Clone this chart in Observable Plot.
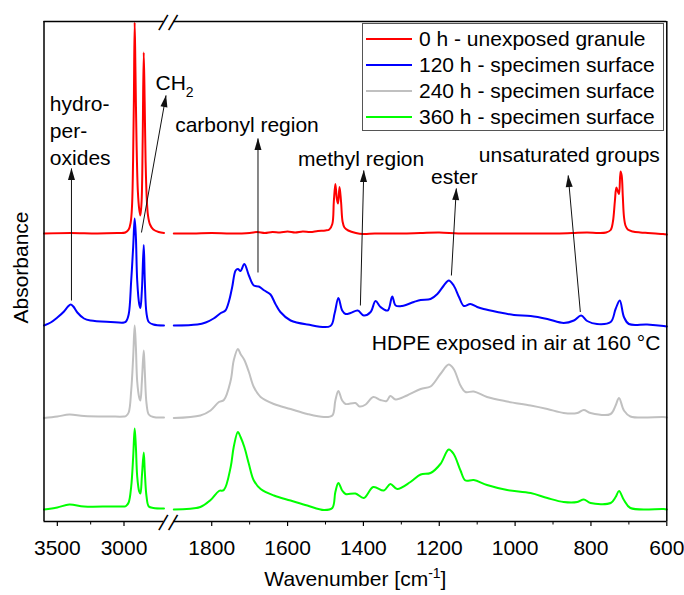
<!DOCTYPE html>
<html><head><meta charset="utf-8">
<script src="https://cdn.jsdelivr.net/npm/d3@7"></script>
<script src="https://cdn.jsdelivr.net/npm/@observablehq/plot@0.6"></script>
<style>
body{margin:0;background:#fff;}
#wrap{position:relative;width:684px;height:595px;font-family:"Liberation Sans",Arial,sans-serif;}
#legend{position:absolute;left:362px;top:23px;width:302px;height:108px;border:1px solid #555;background:#fff;box-sizing:border-box;}
.row{position:absolute;left:0;height:26px;line-height:26px;font-size:21px;color:#000;white-space:nowrap;}
.sw{position:absolute;left:3px;top:12px;width:46px;height:2px;}
.lab{position:absolute;left:56px;top:0;}
</style></head><body><div id="wrap"></div>
<script>
// ---- series ----
const names = ["0 h - unexposed granule","120 h - specimen surface","240 h - specimen surface","360 h - specimen surface"];
const colors = ["#ff0000","#0000ff","#c0c0c0","#00ff00"];

// [wavenumber, absorbance (offset as displayed)]
const red0h = [[3600,0.576],[3400,0.577],[3200,0.576],[3050,0.577],[2990,0.578],[2965,0.584],[2950,0.598],[2940,0.630],[2932,0.720],[2926,0.840],[2920,0.998],[2914,0.900],[2906,0.760],[2896,0.660],[2886,0.625],[2877,0.612],[2868,0.640],[2860,0.760],[2852,0.938],[2845,0.840],[2838,0.720],[2830,0.650],[2820,0.612],[2805,0.594],[2780,0.584],[2740,0.579],[2700,0.577],
 [1900,0.576],[1850,0.576],[1800,0.577],[1750,0.576],[1700,0.577],[1680,0.579],[1660,0.577],[1640,0.579],[1620,0.578],[1600,0.580],[1580,0.578],[1560,0.580],[1540,0.579],[1520,0.581],[1500,0.582],[1490,0.584],[1482,0.595],[1478,0.640],[1474,0.675],[1470,0.645],[1467,0.636],[1463,0.669],[1459,0.640],[1455,0.600],[1450,0.588],[1440,0.582],[1420,0.577],[1400,0.575],[1370,0.576],[1300,0.576],[1250,0.577],[1200,0.578],[1150,0.576],[1100,0.576],[1000,0.576],[900,0.576],[850,0.577],[810,0.578],[780,0.577],[760,0.578],[748,0.583],[742,0.600],[737,0.640],[733,0.668],[729,0.660],[726,0.655],[722,0.700],[719,0.692],[716,0.650],[713,0.610],[709,0.592],[703,0.584],[690,0.580],[670,0.578],[650,0.577],[630,0.576],[610,0.575],[600,0.574]];

const blue120h = [[3600,0.392],[3550,0.398],[3500,0.408],[3450,0.420],[3420,0.430],[3400,0.434],[3380,0.430],[3350,0.418],[3300,0.406],[3250,0.402],[3100,0.399],[3000,0.398],[2985,0.400],[2965,0.414],[2946,0.482],[2931,0.550],[2920,0.606],[2911,0.570],[2901,0.482],[2886,0.435],[2877,0.427],[2866,0.462],[2852,0.553],[2844,0.482],[2831,0.416],[2814,0.399],[2780,0.394],[2700,0.392],
 [1900,0.392],[1838,0.394],[1816,0.398],[1795,0.406],[1776,0.417],[1764,0.422],[1754,0.442],[1746,0.469],[1737,0.502],[1731,0.505],[1724,0.501],[1714,0.515],[1702,0.492],[1689,0.472],[1676,0.470],[1661,0.462],[1645,0.454],[1632,0.435],[1619,0.419],[1592,0.402],[1548,0.394],[1487,0.391],[1476,0.416],[1466,0.447],[1456,0.422],[1447,0.415],[1434,0.417],[1415,0.422],[1399,0.412],[1381,0.419],[1368,0.441],[1355,0.429],[1336,0.422],[1324,0.450],[1315,0.432],[1298,0.431],[1267,0.439],[1249,0.443],[1223,0.445],[1205,0.455],[1188,0.472],[1175,0.482],[1162,0.472],[1148,0.449],[1135,0.431],[1118,0.435],[1100,0.429],[1083,0.425],[1047,0.419],[1003,0.413],[959,0.411],[915,0.405],[872,0.397],[845,0.402],[826,0.412],[810,0.401],[784,0.395],[748,0.399],[735,0.425],[724,0.442],[713,0.409],[700,0.395],[652,0.394],[608,0.391],[600,0.390]];

const gray240h = [[3600,0.207],[3500,0.210],[3410,0.214],[3300,0.211],[3100,0.210],[3000,0.210],[2985,0.211],[2965,0.218],[2946,0.262],[2931,0.330],[2920,0.392],[2911,0.350],[2901,0.280],[2886,0.248],[2877,0.242],[2866,0.280],[2852,0.342],[2844,0.300],[2831,0.236],[2814,0.214],[2780,0.209],[2700,0.208],
 [1900,0.207],[1830,0.212],[1803,0.222],[1781,0.239],[1768,0.243],[1750,0.282],[1742,0.322],[1731,0.345],[1724,0.335],[1714,0.323],[1702,0.299],[1689,0.269],[1671,0.249],[1636,0.235],[1592,0.225],[1548,0.215],[1504,0.209],[1482,0.212],[1474,0.242],[1466,0.261],[1456,0.242],[1447,0.235],[1421,0.237],[1410,0.230],[1394,0.234],[1374,0.249],[1355,0.243],[1339,0.241],[1329,0.251],[1315,0.244],[1285,0.252],[1249,0.265],[1223,0.270],[1197,0.295],[1175,0.314],[1162,0.305],[1144,0.272],[1131,0.259],[1109,0.260],[1074,0.249],[1021,0.240],[959,0.232],[915,0.225],[872,0.217],[836,0.217],[819,0.223],[801,0.217],[748,0.215],[735,0.232],[726,0.247],[713,0.222],[696,0.210],[608,0.209],[600,0.208]];

const green360h = [[3600,0.024],[3500,0.028],[3410,0.034],[3300,0.030],[3100,0.030],[3000,0.030],[2985,0.031],[2965,0.038],[2946,0.070],[2931,0.130],[2920,0.186],[2911,0.150],[2901,0.090],[2886,0.060],[2877,0.056],[2866,0.090],[2852,0.138],[2844,0.100],[2831,0.050],[2814,0.030],[2780,0.027],[2700,0.026],
 [1900,0.024],[1830,0.029],[1803,0.043],[1781,0.061],[1768,0.063],[1750,0.109],[1742,0.149],[1731,0.179],[1724,0.169],[1714,0.149],[1702,0.115],[1689,0.082],[1671,0.065],[1636,0.052],[1592,0.042],[1548,0.032],[1504,0.023],[1482,0.027],[1474,0.059],[1466,0.077],[1456,0.062],[1447,0.055],[1421,0.056],[1399,0.047],[1374,0.069],[1346,0.062],[1329,0.075],[1311,0.065],[1276,0.079],[1249,0.094],[1223,0.097],[1197,0.115],[1175,0.144],[1162,0.135],[1144,0.102],[1131,0.082],[1109,0.083],[1074,0.073],[1021,0.063],[959,0.057],[915,0.047],[872,0.039],[836,0.039],[819,0.044],[801,0.037],[748,0.037],[735,0.049],[726,0.061],[713,0.043],[696,0.027],[608,0.025],[600,0.024]];

// ---- axis ----
const xDomain = [3600, 2700, 1900, 600];      // broken axis: left piece, gap, right piece
const xPieces = [0, 120, 129.8, 622.8];        // relative lengths of the pieces
const majorTicks = [3500, 3000, 1800, 1600, 1400, 1200, 1000, 800, 600];
const minorTicks = [3250, 1700, 1500, 1300, 1100, 900, 700];
const breaks = [2700, 1900];

// ---- annotations ----
const notes = [
  {text: "hydro-\nper-\noxides", w: 3556, a: 0.785, anchor: "start"},
  {text: "CH2", w: 2764, a: 0.881, anchor: "start"},
  {text: "carbonyl region", w: 1707, a: 0.793, anchor: "middle"},
  {text: "methyl region", w: 1406, a: 0.725, anchor: "middle"},
  {text: "ester", w: 1160, a: 0.689, anchor: "middle"},
  {text: "unsaturated groups", w: 857, a: 0.732, anchor: "middle"},
  {text: "HDPE exposed in air at 160 °C", w: 617, a: 0.357, anchor: "end"}
];
const arrows = [
  {w1: 3394, a1: 0.442, w2: 3394, a2: 0.706},
  {w1: 2869, a1: 0.578, w2: 2537, a2: 0.852},
  {w1: 1678, a1: 0.498, w2: 1678, a2: 0.766},
  {w1: 1408, a1: 0.432, w2: 1399, a2: 0.702},
  {w1: 1168, a1: 0.492, w2: 1155, a2: 0.666},
  {w1: 828, a1: 0.419, w2: 860, a2: 0.692}
];

// ---- build table ----
const spectra = [red0h, blue120h, gray240h, green360h];
const rows = [];
spectra.forEach((arr, i) => arr.forEach(([w, a]) => rows.push({series: names[i], seg: w >= xDomain[1] ? "L" : "R", w, a})));

const frameH = [];
[0, 1].forEach(a => { frameH.push({a, x1: xDomain[0], x2: xDomain[1]}); frameH.push({a, x1: xDomain[2], x2: xDomain[3]}); });
const slashes = [];
[0, 1].forEach(a => breaks.forEach(w => slashes.push({w, a})));

// broken-axis transform for the x scale
const broken = d3.scaleLinear().domain(xDomain).range(xPieces);

const font = "'Liberation Sans', Arial, sans-serif";

const plot = Plot.plot({
  width: 684, height: 595,
  marginLeft: 43.5, marginRight: 17.7, marginTop: 21, marginBottom: 74,
  style: {fontFamily: font, fontSize: "21px", background: "white", overflow: "visible", color: "black"},
  x: {transform: broken, axis: null},
  y: {domain: [0, 1], axis: null},
  color: {domain: names, range: colors},
  marks: [
    Plot.line(rows, {x: "w", y: "a", z: d => d.series + d.seg, stroke: "series", strokeWidth: 2, curve: "catmull-rom"}),
    Plot.ruleX([xDomain[0], xDomain[3]], {x: d => d, stroke: "black", strokeWidth: 1.5}),
    Plot.ruleY(frameH, {y: "a", x1: "x1", x2: "x2", stroke: "black", strokeWidth: 1.5}),
    Plot.ruleX(majorTicks, {x: d => d, y1: 0, y2: 0, insetBottom: -5, stroke: "black", strokeWidth: 1.2}),
    Plot.ruleX(minorTicks, {x: d => d, y1: 0, y2: 0, insetBottom: -3.5, stroke: "black", strokeWidth: 1}),
    Plot.text(majorTicks, {x: d => d, y: 0, text: d => String(d), dy: 27, fontSize: 21, fill: "black"}),
    Plot.text(slashes, {x: "w", y: "a", text: () => "|", rotate: 30, fontSize: 19, fill: "black"}),
    Plot.link(arrows, {x1: "w1", y1: "a1", x2: "w2", y2: "a2", stroke: "#111", strokeWidth: 1, markerEnd: "arrow"}),
    Plot.text(notes.filter(n => n.anchor === "start"), {x: "w", y: "a", text: "text", textAnchor: "start", fontSize: 21, lineHeight: 1.286, fill: "black"}),
    Plot.text(notes.filter(n => n.anchor === "middle"), {x: "w", y: "a", text: "text", textAnchor: "middle", fontSize: 21, fill: "black"}),
    Plot.text(notes.filter(n => n.anchor === "end"), {x: "w", y: "a", text: "text", textAnchor: "end", fontSize: 21, fill: "black"}),
    Plot.text(["Wavenumber [cm-1]"], {frameAnchor: "bottom", dy: 64, fontSize: 21, fill: "black"}),
    Plot.text(["Absorbance"], {frameAnchor: "left", textAnchor: "middle", dx: -23, dy: -4, rotate: -90, fontSize: 21, fill: "black"})
  ]
});

// filled triangular arrowheads
d3.select(plot).selectAll("marker").each(function() {
  const m = d3.select(this);
  m.attr("viewBox", "-13 -5 14 10").attr("markerWidth", 14).attr("markerHeight", 10)
   .attr("markerUnits", "userSpaceOnUse").attr("refX", 0).attr("refY", 0)
   .attr("fill", "#111").attr("stroke", "none");
  m.selectAll("*").remove();
  m.append("path").attr("d", "M0.5,0L-11.5,-3.5L-11.5,3.5Z").attr("fill", "#111").attr("stroke", "none");
});

// rich text: subscripts / superscripts
d3.select(plot).selectAll("text").each(function() {
  const t = this.textContent;
  const sel = d3.select(this);
  if (t === "CH2") {
    sel.text(null);
    sel.append("tspan").text("CH");
    sel.append("tspan").attr("dy", 7).attr("font-size", 14).text("2");
  } else if (t === "Wavenumber [cm-1]") {
    sel.text(null);
    sel.append("tspan").text("Wavenumber [cm");
    sel.append("tspan").attr("dy", -8).attr("font-size", 14).text("-1");
    sel.append("tspan").attr("dy", 8).text("]");
  }
});

const wrap = document.getElementById("wrap");
wrap.appendChild(plot);

// legend (inside plot area, top-right)
const lg = document.createElement("div");
lg.id = "legend";
names.forEach((n, i) => {
  const r = document.createElement("div");
  r.className = "row";
  r.style.top = (1.5 + 26.1 * i) + "px";
  r.style.width = "100%";
  r.innerHTML = `<span class="sw" style="background:${colors[i]}"></span><span class="lab">${n}</span>`;
  lg.appendChild(r);
});
wrap.appendChild(lg);
</script></body></html>
